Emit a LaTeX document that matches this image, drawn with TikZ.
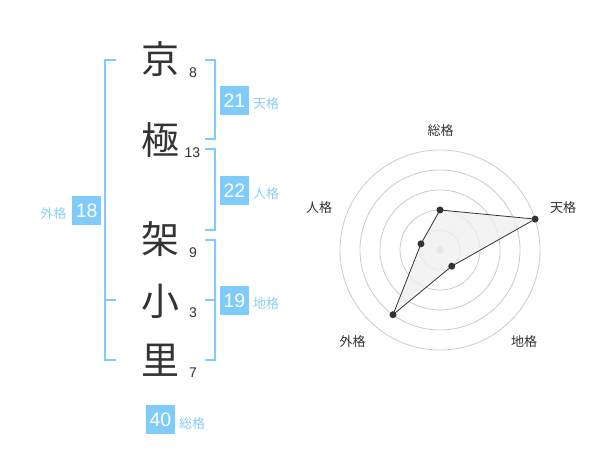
\documentclass[tikz,border=0pt]{standalone}
\usepackage{fontspec}
\setmainfont{Liberation Sans}
\newfontfamily\jp{Noto Sans CJK JP}
\definecolor{sky}{RGB}{127,204,250}
\definecolor{skytxt}{RGB}{140,206,245}
\definecolor{ink}{RGB}{51,51,51}
\definecolor{ring}{RGB}{204,204,204}
\tikzset{
  kanji/.style={inner sep=0pt, text=ink, font=\jp\fontsize{38}{38}\selectfont},
  strokes/.style={inner sep=0pt, text=ink, font=\fontsize{14}{14}\selectfont},
  bracket/.style={draw=sky, line width=2pt},
  scorebox/.style={fill=sky, text=white, minimum width=29pt, minimum height=29pt, inner sep=0pt, font=\fontsize{19.5}{19.5}\selectfont},
  scorelabel/.style={inner sep=0pt, text=skytxt, font=\jp\fontsize{13}{13}\selectfont},
  ringline/.style={draw=ring, line width=0.8pt},
  axislabel/.style={inner sep=0pt, text=ink, font=\jp\fontsize{13}{13}\selectfont},
  vdot/.style={circle, fill=ink, inner sep=0pt, minimum size=7pt},
}
\begin{document}
\begin{tikzpicture}[x=1pt,y=-1pt]
\useasboundingbox (0,0) rectangle (600,470);
\fill[white] (0,0) rectangle (600,470);
% kanji
\node[kanji] (k1) at (160,59) {京};
\node[kanji] (k2) at (160,140.5) {極};
\node[kanji] (k3) at (160,239) {架};
\node[kanji] (k4) at (160,301) {小};
\node[kanji] (k5) at (160,360) {里};
% stroke counts
\node[strokes] (s1) at (193,73) {8};
\node[strokes] (s2) at (192.5,153) {13};
\node[strokes] (s3) at (193,253) {9};
\node[strokes] (s4) at (193,313) {3};
\node[strokes] (s5) at (193,373) {7};
% brackets
\draw[bracket] (116,60) -- (105,60) -- (105,360) -- (116,360);
\draw[bracket] (105,300) -- (116,300);
\draw[bracket] (205,60) -- (215,60) -- (215,139.5) -- (205,139.5);
\draw[bracket] (205,149.5) -- (215,149.5) -- (215,230) -- (205,230);
\draw[bracket] (205,240) -- (215,240) -- (215,360) -- (205,360);
\draw[bracket] (205,300) -- (215,300);
% score boxes
\node[scorebox] (ten) at (234.5,100.5) {21};
\node[scorelabel] (tenl) at (266,104) {天格};
\node[scorebox] (jin) at (234.5,190.5) {22};
\node[scorelabel] (jinl) at (266,194) {人格};
\node[scorebox] (chi) at (234.5,300.5) {19};
\node[scorelabel] (chil) at (266,304) {地格};
\node[scorebox] (gai) at (86.7,210.5) {18};
\node[scorelabel] (gail) at (53.3,214) {外格};
\node[scorebox] (sou) at (160.5,419.5) {40};
\node[scorelabel] (soul) at (192,424) {総格};
% radar
\coordinate (c) at (440,250);
\foreach \r in {20,40,60,80,100} \draw[ringline] (c) circle (\r);
\fill[ring] (c) circle (4);
\path (c) ++(0,-40) coordinate (pS);
\path (c) ++(95.106,-30.902) coordinate (pT);
\path (c) ++(11.756,16.180) coordinate (pC);
\path (c) ++(-47.023,64.721) coordinate (pG);
\path (c) ++(-19.021,-6.180) coordinate (pJ);
\draw[ink, line width=0.8pt, fill=black!6, fill opacity=0.8] (pS) -- (pT) -- (pC) -- (pG) -- (pJ) -- cycle;
\foreach \p in {pS,pT,pC,pG,pJ} \node[vdot] at (\p) {};
\node[axislabel] (aS) at (440.5,131) {総格};
\node[axislabel] (aT) at (563,208) {天格};
\node[axislabel] (aC) at (524,342) {地格};
\node[axislabel] (aG) at (352.5,342) {外格};
\node[axislabel] (aJ) at (319,208) {人格};
\end{tikzpicture}
\end{document}
